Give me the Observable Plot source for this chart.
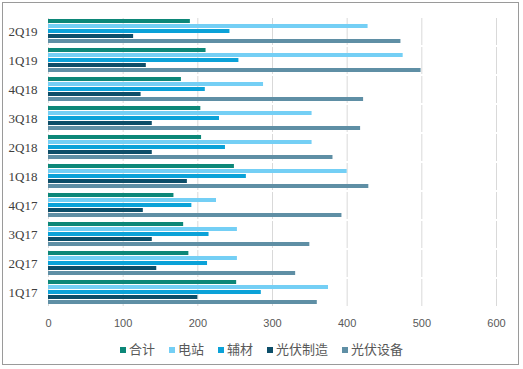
<!DOCTYPE html>
<html><head><meta charset="utf-8">
<script src="https://cdn.jsdelivr.net/npm/d3@7"></script>
<script src="https://cdn.jsdelivr.net/npm/@observablehq/plot@0.6"></script>
<style>
body{margin:0;background:#fff;}
#wrap{position:relative;width:523px;height:369px;overflow:hidden;}
#frame{position:absolute;left:2px;top:2px;width:517px;height:363px;border:1px solid #9a9a9a;box-sizing:border-box;}
#chart{position:absolute;left:0;top:0;}
#legend{position:absolute;left:0;top:341px;width:523px;text-align:center;font-family:"Noto Sans CJK SC",sans-serif;font-size:13px;color:#595959;line-height:16px;white-space:nowrap;}
#legend span.item{display:inline-block;margin:0 7px;}
#legend span.sw{display:inline-block;width:6px;height:6px;margin-right:3px;vertical-align:1px;}
</style></head>
<body><div id="wrap"><div id="frame"></div><div id="chart"></div><div id="legend"></div></div>
<script>
const categories = ["2Q19","1Q19","4Q18","3Q18","2Q18","1Q18","4Q17","3Q17","2Q17","1Q17"];
const series = ["合计","电站","辅材","光伏制造","光伏设备"];
const colors = ["#0c8778","#74cff5","#0ba2d8","#0d4e69","#5f8fa5"];
const heji     = [190, 211, 178, 204, 205, 249, 168, 181, 188, 252];
const dianzhan = [428, 475, 288, 353, 353, 400, 225, 253, 253, 375];
const fucai    = [243, 255, 210, 229, 237, 265, 192, 215, 213, 285];
const zhizao   = [114, 131, 124, 139, 139, 186, 127, 139, 145, 200];
const shebei   = [472, 499, 422, 418, 381, 429, 393, 350, 331, 360];
const xTicks = [0,100,200,300,400,500,600];

const valueArrays = [heji, dianzhan, fucai, zhizao, shebei];
const data = [];
categories.forEach((c, i) => {
  series.forEach((s, j) => data.push({cat: c, series: s, value: valueArrays[j][i]}));
});

const chart = Plot.plot({
  width: 523,
  height: 340,
  marginLeft: 48,
  marginRight: 27,
  marginTop: 17,
  marginBottom: 33,
  style: {background: "transparent"},
  x: {domain: [0, 600], ticks: xTicks, grid: true, label: null, tickSize: 0, tickPadding: 13},
  y: {domain: series, axis: null, paddingInner: 0.13, paddingOuter: 0.02},
  fy: {domain: categories, paddingInner: 0.08, paddingOuter: 0, label: null, tickSize: 0, tickPadding: 11},
  color: {domain: series, range: colors},
  marks: [
    Plot.barX(data, {x: "value", y: "series", fy: "cat", fill: "series"})
  ]
});
d3.select(chart).selectAll("[aria-label='x-grid'] line, [aria-label='x-grid']").attr("stroke", "#d9d9d9").attr("stroke-opacity", 1);
d3.select(chart).selectAll("[aria-label='x-axis tick label'] text, [aria-label='x-axis tick label']")
  .attr("fill", "#595959").style("font-family", "'Liberation Sans', sans-serif").style("font-size", "11px");
d3.select(chart).selectAll("[aria-label='fy-axis tick label'] text, [aria-label='fy-axis tick label']")
  .attr("fill", "#404040").style("font-family", "'Liberation Serif', serif").style("font-size", "13px");
document.getElementById("chart").appendChild(chart);

const lg = document.getElementById("legend");
series.forEach((s, j) => {
  const it = document.createElement("span");
  it.className = "item";
  it.innerHTML = `<span class="sw" style="background:${colors[j]}"></span>${s}`;
  lg.appendChild(it);
});
</script></body></html>
